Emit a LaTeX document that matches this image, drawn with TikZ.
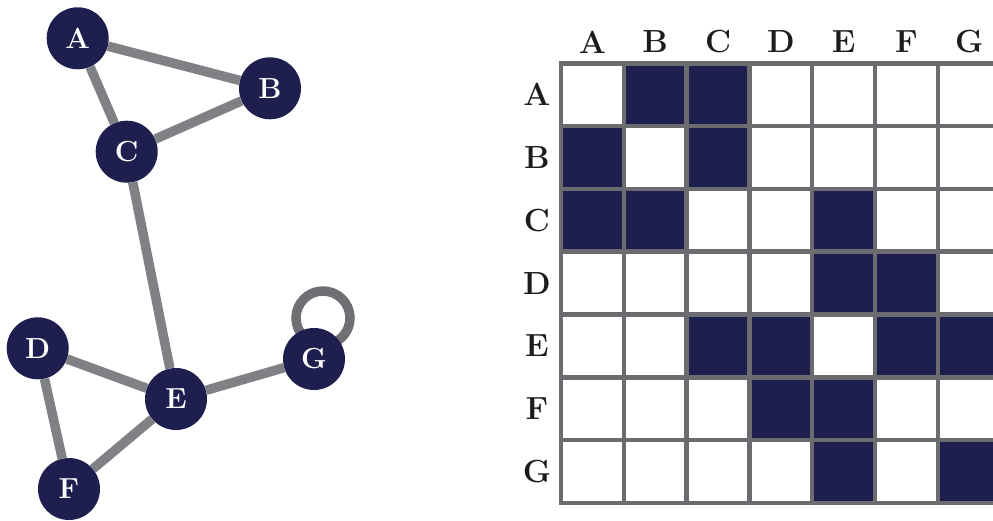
\documentclass[tikz,border=0pt]{standalone}
\usetikzlibrary{backgrounds}
\definecolor{navy}{RGB}{31,31,79}
\definecolor{edgegray}{RGB}{128,129,133}
\definecolor{loopgray}{RGB}{112,112,116}
\definecolor{gridgray}{RGB}{108,108,112}
\definecolor{ink}{RGB}{28,28,28}
\begin{document}
\begin{tikzpicture}[x=1pt,y=-1pt,
  vertex/.style={circle,fill=navy,text=white,minimum size=62pt,inner sep=0pt,font=\fontsize{29}{31}\selectfont\bfseries},
  link/.style={draw=edgegray,line width=9.5pt},
  selfloop/.style={draw=loopgray,line width=9.5pt},
  lbl/.style={font=\fontsize{32}{34}\selectfont\bfseries,text=ink,inner sep=0pt},
  cellon/.style={fill=navy},
  gridline/.style={draw=gridgray,line width=4.5pt,line cap=rect},
  ]
\useasboundingbox (0,0) rectangle (993,521);
\clip (0,0) rectangle (993,521);
% graph nodes
\node[vertex] (A) at (77.7,38.3) {A};
\node[vertex] (B) at (270,88.3) {B};
\node[vertex] (C) at (126.7,151.7) {C};
\node[vertex] (D) at (37.7,348.3) {D};
\node[vertex] (E) at (176,399) {E};
\node[vertex] (F) at (69,489) {F};
\node[vertex] (G) at (314,359) {G};
\begin{pgfonlayer}{background}
  \fill[white] (0,0) rectangle (993,521);
  \draw[link] (A) -- (B);
  \draw[link] (A) -- (C);
  \draw[link] (B) -- (C);
  \draw[link] (C) -- (E);
  \draw[link] (D) -- (E);
  \draw[link] (D) -- (F);
  \draw[link] (E) -- (F);
  \draw[link] (E) -- (G);
  \draw[selfloop] ([shift={(9,-41)}]G.center) circle (27);
\end{pgfonlayer}
% matrix
\def\mx{561}\def\my{63.3}\def\cs{62.8}
\foreach \r/\c in {0/1,0/2,1/0,1/2,2/0,2/1,2/4,3/4,3/5,4/2,4/3,4/5,4/6,5/3,5/4,6/4,6/6}{
  \fill[cellon] ({\mx+\c*\cs},{\my+\r*\cs}) rectangle ++(\cs,\cs);
}
\foreach \i in {0,...,7}{
  \draw[gridline] ({\mx+\i*\cs},\my) -- ({\mx+\i*\cs},{\my+7*\cs});
  \draw[gridline] (\mx,{\my+\i*\cs}) -- ({\mx+7*\cs},{\my+\i*\cs});
}
\foreach \n [count=\k from 0] in {A,B,C,D,E,F,G}{
  \node[lbl] (col\n) at ({\mx+\cs/2+\k*\cs},42) {\n};
  \node[lbl] (row\n) at (537,{\my+\cs/2+\k*\cs}) {\n};
}
\end{tikzpicture}
\end{document}
